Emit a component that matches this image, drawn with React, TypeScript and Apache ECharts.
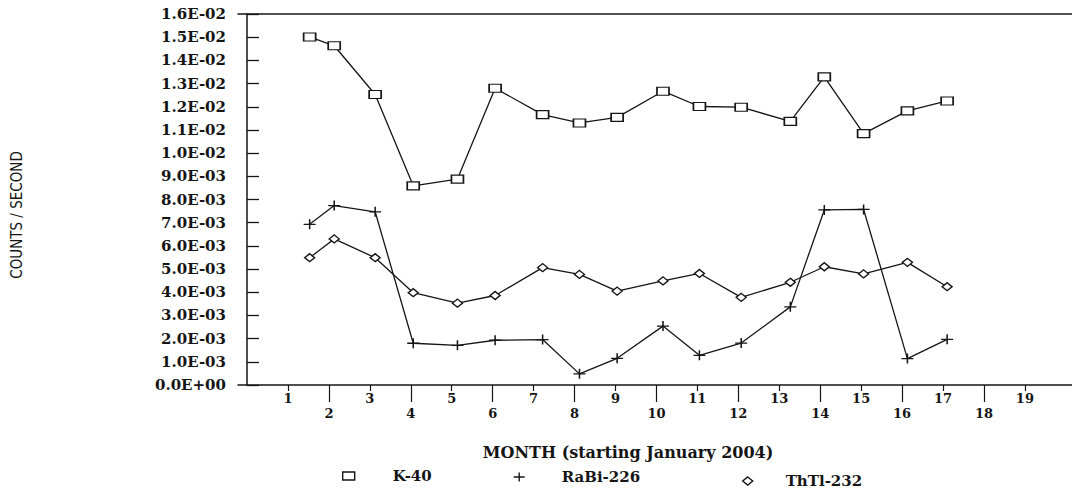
import React, { useEffect, useRef } from "react";
import * as echarts from "echarts";

// Month positions of the measurements (as plotted)
const months = [1.53, 2.13, 3.13, 4.06, 5.14, 6.06, 7.22, 8.12, 9.04, 10.16, 11.05, 12.07, 13.27, 14.1, 15.06, 16.13, 17.1];
const k40 = [0.01501, 0.01463, 0.01253, 0.00859, 0.00888, 0.0128, 0.01166, 0.0113, 0.01154, 0.01267, 0.01201, 0.01198, 0.01137, 0.01329, 0.01084, 0.01182, 0.01225];
const rabi226 = [0.00693, 0.00774, 0.00747, 0.0018, 0.00171, 0.00193, 0.00196, 0.00048, 0.00115, 0.00254, 0.00128, 0.00181, 0.00337, 0.00755, 0.00757, 0.00114, 0.00197];
const thtl232 = [0.00549, 0.0063, 0.00549, 0.00398, 0.00353, 0.00386, 0.00506, 0.00477, 0.00405, 0.00449, 0.00481, 0.00378, 0.00443, 0.0051, 0.00479, 0.00529, 0.00424];
const tickMonths = [1, 2, 3, 4, 5, 6, 7, 8, 9, 10, 11, 12, 13, 14, 15, 16, 17, 18, 19];
const oddMonths = tickMonths.filter((m) => m % 2 === 1);
const evenMonths = tickMonths.filter((m) => m % 2 === 0);
const seriesNames = ["K-40", "RaBi-226", "ThTl-232"];
const xTitle = "MONTH (starting January 2004)";
const yTitle = "COUNTS / SECOND";

const INK = "#151515";
const SERIF = "'DejaVu Serif', 'Liberation Serif', serif";

function sci(v: number): string {
  if (Math.abs(v) < 1e-12) return "0.0E+00";
  const [m, e] = v.toExponential(1).split("e");
  const n = parseInt(e, 10);
  return m + "E" + (n < 0 ? "-" : "+") + String(Math.abs(n)).padStart(2, "0");
}

const pairs = (ys: number[]) => ys.map((y, i) => [months[i], y]);

export default function App() {
  const ref = useRef<HTMLDivElement>(null);
  useEffect(() => {
    document.body.style.margin = "0";
    const chart = echarts.init(ref.current!, null, { renderer: "svg" });
    const xRange = { min: -0.22, max: 20.15 };
    const symStyle = { color: "#fff", borderColor: INK, borderWidth: 1.4 };
    const plusPath = "path://M0,5L12,5M6,0L6,10";
    const tickLabel = {
      color: INK,
      fontFamily: SERIF,
      fontWeight: "bold",
      fontSize: 13,
      formatter: (v: number) => String(Math.round(v)),
    };
    chart.setOption({
      animation: false,
      backgroundColor: "#fff",
      grid: { left: 238, right: 0, top: 14, bottom: 104, outerBoundsMode: "none" },
      xAxis: [
        {
          type: "value",
          ...xRange,
          position: "bottom",
          splitLine: { show: false },
          axisLine: { show: true, onZero: false, lineStyle: { color: INK, width: 1.5 } },
          axisTick: { show: true, customValues: oddMonths, length: 6, lineStyle: { color: INK, width: 1.2 } },
          axisLabel: { ...tickLabel, customValues: oddMonths, margin: 7 },
        },
        {
          type: "value",
          ...xRange,
          position: "bottom",
          splitLine: { show: false },
          axisLine: { show: false, onZero: false },
          axisTick: { show: true, customValues: evenMonths, length: 17, lineStyle: { color: INK, width: 1.2 } },
          axisLabel: { ...tickLabel, customValues: evenMonths, margin: 22 },
        },
        {
          type: "value",
          ...xRange,
          position: "top",
          splitLine: { show: false },
          axisLine: { show: true, onZero: false, lineStyle: { color: INK, width: 1.5 } },
          axisTick: { show: false },
          axisLabel: { show: false },
        },
      ],
      yAxis: {
        type: "value",
        min: 0,
        max: 0.016,
        interval: 0.001,
        splitLine: { show: false },
        axisLine: { show: true, lineStyle: { color: INK, width: 1.5 } },
        axisTick: { show: true, inside: true, length: 12, lineStyle: { color: INK, width: 1.3 } },
        axisLabel: {
          margin: 12,
          color: INK,
          fontFamily: SERIF,
          fontWeight: "bold",
          fontSize: 15,
          formatter: (v: number) => sci(v),
        },
      },
      legend: [
        {
          data: [{ name: seriesNames[0], icon: "rect" }],
          left: 342, top: 468, padding: 0, selectedMode: false,
          itemWidth: 12, itemHeight: 8,
          itemStyle: symStyle,
          textStyle: { color: INK, fontFamily: SERIF, fontWeight: "bold", fontSize: 15, lineHeight: 16, padding: [0, 0, 0, 33] },
        },
        {
          data: [{ name: seriesNames[1], icon: plusPath }],
          left: 513, top: 469, padding: 0, selectedMode: false,
          itemWidth: 11, itemHeight: 10,
          itemStyle: symStyle,
          textStyle: { color: INK, fontFamily: SERIF, fontWeight: "bold", fontSize: 15, lineHeight: 16, padding: [0, 0, 0, 32] },
        },
        {
          data: [{ name: seriesNames[2], icon: "diamond" }],
          left: 742, top: 473, padding: 0, selectedMode: false,
          itemWidth: 10, itemHeight: 8,
          itemStyle: symStyle,
          textStyle: { color: INK, fontFamily: SERIF, fontWeight: "bold", fontSize: 15, lineHeight: 16, padding: [0, 0, 0, 28] },
        },
      ],
      graphic: [
        {
          type: "text",
          x: 628,
          y: 452,
          style: { text: xTitle, align: "center", verticalAlign: "middle", fill: INK, font: "bold 16px " + SERIF },
        },
        {
          type: "text",
          x: 17,
          y: 215,
          rotation: Math.PI / 2,
          style: {
            text: yTitle,
            align: "center",
            verticalAlign: "middle",
            fill: INK,
            font: "15px 'Liberation Sans Narrow', 'DejaVu Sans Condensed', 'Liberation Sans', sans-serif",
          },
        },
      ],
      series: [
        {
          name: seriesNames[0],
          type: "line",
          data: pairs(k40),
          symbol: "rect",
          symbolSize: [12, 8],
          lineStyle: { color: INK, width: 1.3 },
          itemStyle: symStyle,
        },
        {
          name: seriesNames[1],
          type: "line",
          data: pairs(rabi226),
          symbol: plusPath,
          symbolSize: [12, 10],
          lineStyle: { color: INK, width: 1.3 },
          itemStyle: symStyle,
        },
        {
          name: seriesNames[2],
          type: "line",
          data: pairs(thtl232),
          symbol: "diamond",
          symbolSize: [10, 8],
          lineStyle: { color: INK, width: 1.3 },
          itemStyle: symStyle,
        },
      ],
    });
    return () => chart.dispose();
  }, []);
  return <div ref={ref} style={{ position: "absolute", left: 0, top: 0, width: 1072, height: 489 }} />;
}
